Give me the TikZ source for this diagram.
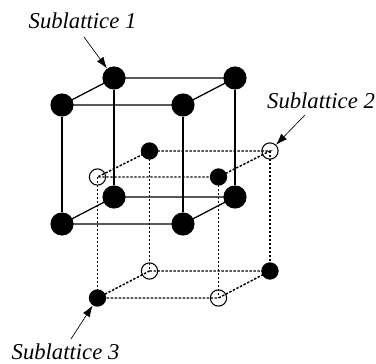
\documentclass[tikz,border=0pt]{standalone}
\usepackage{fontspec}
\setmainfont{Liberation Serif}
\usepackage{tikz}
\usetikzlibrary{arrows.meta}

\begin{document}
\begin{tikzpicture}[
    x=0.75pt,
    y=-0.75pt,
    >={Latex[length=3mm,width=2.1mm]},
    bigatom/.style={circle, fill, inner sep=0pt, minimum size=17.4pt},
    smallfull/.style={circle, fill, inner sep=0pt, minimum size=13pt},
    smallopen/.style={circle, draw, line width=0.8pt, inner sep=0pt, minimum size=12.2pt},
    bond/.style={line width=0.95pt},
    subbond/.style={line width=1.1pt, dash pattern=on 1.8pt off 1.2pt},
    pointer/.style={->, line width=0.5pt},
    tag/.style={font=\fontsize{17}{19}\selectfont\itshape, inner sep=0pt}
]
\useasboundingbox (0,0) rectangle (376,364);
% text
\node[tag] (tag1) at (82.5,21) {Sublattice 1};
\node[tag] (tag2) at (321,101) {Sublattice 2};
\node[tag] (tag3) at (65.5,351.5) {Sublattice 3};
\coordinate (from1) at (84,37);
\coordinate (from2) at (305,115);
\coordinate (from3) at (71,339);
% large cube
\node[bigatom] (a1) at (114,78) {};
\node[bigatom] (a2) at (235,78) {};
\node[bigatom] (a3) at (62,105) {};
\node[bigatom] (a4) at (183,105) {};
\node[bigatom] (a5) at (114,197) {};
\node[bigatom] (a6) at (235,197) {};
\node[bigatom] (a7) at (62,224) {};
\node[bigatom] (a8) at (183,224) {};
% small cube
\node[smallfull] (b1) at (149.5,151) {};
\node[smallopen] (b2) at (270,151) {};
\node[smallopen] (b3) at (97.5,177) {};
\node[smallfull] (b4) at (218.5,177) {};
\node[smallopen] (b5) at (149.5,271) {};
\node[smallfull] (b6) at (270,271) {};
\node[smallfull] (b7) at (97.5,298) {};
\node[smallopen] (b8) at (218.5,298) {};

\draw[bond] (a1.center) -- (a2.center) -- (a4.center) -- (a3.center) -- cycle;
\draw[bond] (a5.center) -- (a6.center) -- (a8.center) -- (a7.center) -- cycle;
\draw[bond] (a1) -- (a5);
\draw[bond] (a2) -- (a6);
\draw[bond] (a3) -- (a7);
\draw[bond] (a4) -- (a8);

\draw[subbond] (b1.center) -- (b2.center) -- (b4.center) -- (b3.center) -- cycle;
\draw[subbond] (b5.center) -- (b6.center) -- (b8.center) -- (b7.center) -- cycle;
\draw[subbond] (b1.center) -- (b5.center);
\draw[subbond] (b2.center) -- (b6.center);
\draw[subbond] (b3.center) -- (b7.center);
\draw[subbond] (b4.center) -- (b8.center);

\draw[pointer] (from1) -- (a1);
\draw[pointer] (from2) -- (b2);
\draw[pointer] (from3) -- (b7);
\end{tikzpicture}
\end{document}
